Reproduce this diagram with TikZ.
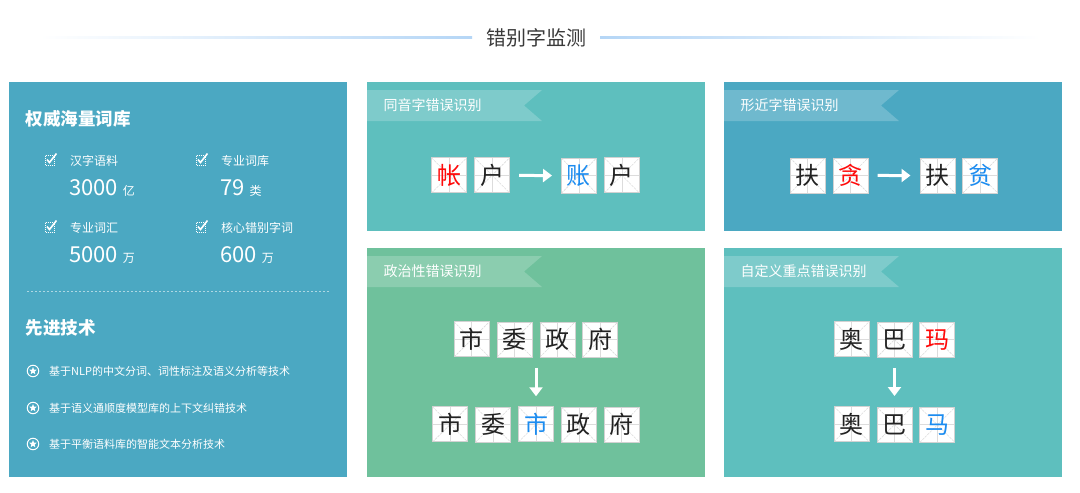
\documentclass[tikz,border=0pt]{standalone}
\usepackage{fontspec}
\setmainfont{Noto Sans CJK SC}
\usepackage{tikz}
\usetikzlibrary{matrix,arrows.meta,positioning,shapes.geometric}

\definecolor{bluepanel}{HTML}{4BA8C2}
\definecolor{tealpanel}{HTML}{5EBFBE}
\definecolor{greenpanel}{HTML}{6FC19C}
\definecolor{titleline}{HTML}{B5D6F6}
\definecolor{titleink}{HTML}{3A3A3A}
\definecolor{boxline}{HTML}{D2D2D2}
\definecolor{gridline}{HTML}{DCDCDC}
\definecolor{ink}{HTML}{222222}
\definecolor{wrongred}{HTML}{FF0A0A}
\definecolor{rightblue}{HTML}{1C8CF0}

\tikzset{
  panel/.style={anchor=north west, inner sep=0pt, minimum width=338pt},
  charbox/.style={draw=boxline, line width=0.9pt, fill=white, minimum size=35pt, inner sep=0pt,
    font=\fontsize{24}{26}\selectfont, text=ink,
    path picture={
      \draw[gridline, line width=0.6pt, dash pattern=on 2.5pt off 1pt]
        (path picture bounding box.north west) -- (path picture bounding box.south east)
        (path picture bounding box.south west) -- (path picture bounding box.north east);
      \draw[gridline, line width=0.7pt]
        (path picture bounding box.north) -- (path picture bounding box.south)
        (path picture bounding box.west) -- (path picture bounding box.east);}},
  wrong/.style={text=wrongred},
  fixed/.style={text=rightblue},
  charrow/.style={matrix of nodes, column sep=7pt, inner sep=0pt, nodes={charbox}},
  bigarrow/.style={draw=white, line width=3pt, -{Triangle[width=13pt,length=9pt]},
    shorten <=9pt, shorten >=9pt},
  tabtext/.style={anchor=west, text=white, font=\fontsize{14}{16}\selectfont},
  head/.style={anchor=west, text=white, font=\fontsize{17.5}{20}\selectfont\bfseries},
  itemlabel/.style={anchor=west, inner sep=0pt, text=white, font=\fontsize{12}{14}\selectfont},
  itemnum/.style={anchor=base west, inner sep=0pt, text=white, font=\fontsize{22}{26}\selectfont},
  techtext/.style={anchor=west, inner sep=0pt, text=white, font=\fontsize{11}{13}\selectfont},
  checkmark/.pic={
    \draw[white, line width=0.8pt, dash pattern=on 1.2pt off 0.8pt] (-5,-4.5) rectangle (4.5,5);
    \draw[white, line width=1.6pt] (-3,-0.5) -- (-0.5,2.5) -- (6.5,-6.5);}
}

\begin{document}
\begin{tikzpicture}[x=1pt,y=-1pt]
  \fill[white] (0,0) rectangle (1080,493);
  \useasboundingbox (0,0) rectangle (1080,493);

  % title with fading rules
  \node[font=\fontsize{20}{24}\selectfont, text=titleink] (title) at (536,38) {错别字监测};
  \shade[left color=white, right color=titleline] (40,36) rectangle (472,38.5);
  \shade[left color=titleline, right color=white] (600,36) rectangle (1040,38.5);

  % panels
  \node[panel, fill=bluepanel, minimum height=395pt] (lib) at (9,82) {};
  \node[panel, fill=tealpanel, minimum height=149pt] (hom) at (367,82) {};
  \node[panel, fill=bluepanel, minimum height=149pt] (shp) at (724,82) {};
  \node[panel, fill=greenpanel, minimum height=229pt] (pol) at (367,248) {};
  \node[panel, fill=tealpanel, minimum height=229pt] (cus) at (724,248) {};

  % tab ribbons
  \foreach \p/\t in {hom/同音字错误识别, shp/形近字错误识别, pol/政治性错误识别, cus/自定义重点错误识别}{
    \fill[white, fill opacity=0.2] ([yshift=-8pt]\p.north west) -- ++(175,0) -- ++(-18,15.5)
      -- ++(18,15.5) -- ++(-175,0) -- cycle;
    \node[tabtext] (\p-tab) at ([xshift=13pt,yshift=-23.5pt]\p.north west) {\t};
  }

  % left panel
  \node[head] (lexicon) at (22,119) {权威海量词库};
  \foreach \x/\y/\lab/\num/\unit [count=\i] in {70/161/汉字语料/3000/亿, 221/161/专业词库/79/类,
      70/228/专业词汇/5000/万, 221/228/核心错别字词/600/万}{
    \pic at (\x-20,\y-1) {checkmark};
    \node[itemlabel] (lab\i) at (\x,\y) {\lab};
    \node[itemnum] (num\i) at (\x-1,\y+34.5) {\num\ {\fontsize{12}{14}\selectfont\unit}};
  }
  \draw[white, opacity=0.55, line width=0.8pt, dash pattern=on 2pt off 2pt] (27,291) -- (330,291);
  \node[head] (tech) at (22,328) {先进技术};
  \foreach \y/\t [count=\i] in {371/基于NLP的中文分词、词性标注及语义分析等技术,
      408/基于语义通顺度模型库的上下文纠错技术, 444/基于平衡语料库的智能文本分析技术}{
    \node[circle, draw=white, line width=1pt, minimum size=11.5pt, inner sep=0pt] (dot\i) at (33,\y) {};
    \node[star, star points=5, star point ratio=2.3, fill=white, minimum size=8pt, inner sep=0pt] (star\i) at (dot\i) {};
    \node[techtext] (tech\i) at (49,\y) {\t};
  }

  % homophone and look-alike rows
  \matrix (hom-row) [charrow] at (535.5,175.5) {|[wrong]| 帐 & 户 &[44pt] |[fixed]| 账 & 户 \\};
  \draw[bigarrow] (hom-row-1-2) -- (hom-row-1-3);
  \matrix (shp-row) [charrow] at (894,175.5) {扶 & |[wrong]| 贪 &[44pt] 扶 & |[fixed]| 贫 \\};
  \draw[bigarrow] (shp-row-1-2) -- (shp-row-1-3);

  % political and custom rows
  \matrix (pol-top) [charrow] at (536,339.5) {市 & 委 & 政 & 府 \\};
  \matrix (pol-bot) [charrow] at (536,424.5) {市 & 委 & |[fixed]| 市 & 政 & 府 \\};
  \draw[bigarrow, shorten <=10pt, shorten >=10pt] (pol-top) -- (pol-bot);
  \matrix (cus-top) [charrow] at (894.5,339.5) {奥 & 巴 & |[wrong]| 玛 \\};
  \matrix (cus-bot) [charrow] at (894.5,424.5) {奥 & 巴 & |[fixed]| 马 \\};
  \draw[bigarrow, shorten <=10pt, shorten >=10pt] (cus-top) -- (cus-bot);
\end{tikzpicture}
\end{document}
